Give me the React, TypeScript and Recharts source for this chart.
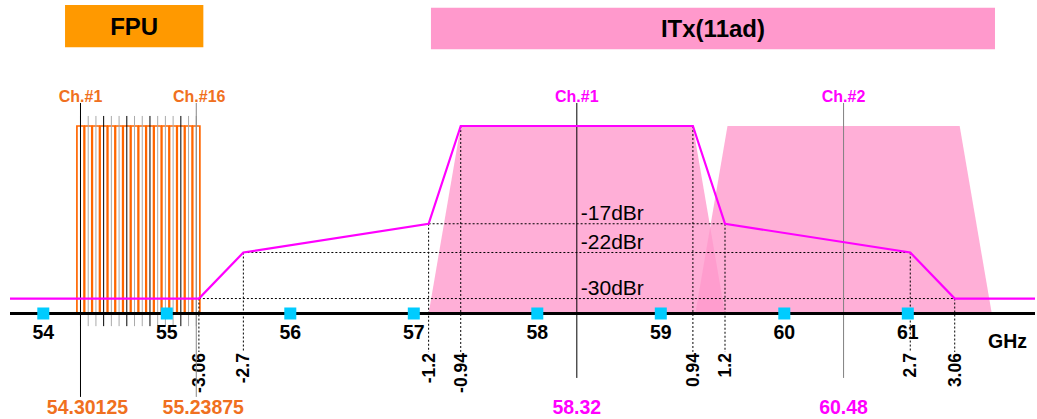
import React from 'react';
import {
  ComposedChart,
  XAxis,
  YAxis,
  Area,
  Line,
  ReferenceArea,
  ReferenceLine,
  ReferenceDot,
} from 'recharts';

// ---------- data ----------
const X_DOMAIN = [53.7304, 62.03];
const Y_DOMAIN = [-32.6, 21.9];
const FLOOR = -32.6; // level of the frequency axis line

const TICKS = [54, 55, 56, 57, 58, 59, 60, 61];

const FPU_CENTERS = [
  54.30125, 54.36375, 54.42625, 54.48875, 54.55125, 54.61375, 54.67625, 54.73875,
  54.80125, 54.86375, 54.92625, 54.98875, 55.05125, 55.11375, 55.17625, 55.23875,
];
const FPU_DARK_INDEX = [0, 3, 6, 9, 13];
const FPU_HALF_BW = 0.029;
const FPU_NAMED = [
  { f: 54.30125, name: 'Ch.#1' },
  { f: 55.23875, name: 'Ch.#16' },
];

const ITX_CENTERS = [58.32, 60.48];
const ITX_NAMES = ['Ch.#1', 'Ch.#2'];
const SPECTRUM_OFFSETS = [-1.2, -0.94, 0.94, 1.2];
const SPECTRUM_LEVELS = [FLOOR, 0, 0, FLOOR];

const MASK_OFFSETS = [-3.06, -2.7, -1.2, -0.94, 0.94, 1.2, 2.7, 3.06];
const MASK_LEVELS = [-30, -22, -17, 0, 0, -17, -22, -30];
const MASK_FLOOR = -30;

const DBR_LEVELS = [-17, -22, -30];
const DBR_HALF_SPANS = [1.2, 2.7, 3.06];

const HEADERS = [
  { label: 'FPU', x1: 54.176, x2: 55.296, y1: 13.68, y2: 21.03 },
  { label: 'ITx(11ad)', x1: 57.139, x2: 61.706, y1: 13.33, y2: 20.56 },
];

// vertical extents of the guide lines (chart level units)
const LONG_TOP = 4.0;
const FPU_TOP = 1.74;
const FPU_BOTTOM = -34.8;
const GUIDE_BOTTOM = -39.3;
const ITX_LINE_BOTTOM = -43.8;
const FPU_LONG_BOTTOM = -47.1;
const FREQ_LABEL_LEVEL = -50.1;

// ---------- style ----------
const FONT = '"Liberation Sans", Arial, Helvetica, sans-serif';
const ORANGE = '#FF6600';
const ORANGE_TEXT = '#F07020';
const MAGENTA = '#FF00FF';
const PINK = '#FF99CC';

const Tick = (props: any) => {
  const { x, y, payload } = props;
  return (
    <g>
      <rect x={x - 6} y={y - 6} width={12} height={12} fill="#00CCFF" />
      <text x={x} y={y + 25} textAnchor="middle" fontSize={19.5} fontWeight="bold" fontFamily={FONT} fill="#000">
        {payload.value}
      </text>
    </g>
  );
};

const rotatedLabel = (text: string) => (p: any) => {
  const vb = p.viewBox || {};
  const tx = vb.x + 6;
  const ty = vb.y + vb.height + 1;
  return (
    <text
      x={tx}
      y={ty}
      transform={`rotate(-90 ${tx} ${ty})`}
      textAnchor="end"
      fontSize={17.5}
      fontWeight="bold"
      fontFamily={FONT}
      fill="#000"
    >
      {text}
    </text>
  );
};

const topLabel = (text: string, color: string, dx = 0) => (p: any) => {
  const vb = p.viewBox || {};
  return (
    <text x={vb.x + dx} y={vb.y - 1} textAnchor="middle" fontSize={16} fontWeight="bold" fontFamily={FONT} fill={color}>
      {text}
    </text>
  );
};

const pointText = (text: string, color: string, opts: any) => (p: any) => {
  const vb = p.viewBox || {};
  return (
    <text
      x={vb.x + (opts.dx || 0)}
      y={vb.y + (opts.dy || 0)}
      textAnchor={opts.anchor || 'middle'}
      fontSize={opts.size}
      fontWeight={opts.weight || 'bold'}
      fontFamily={FONT}
      fill={color}
    >
      {text}
    </text>
  );
};

const headerLabel = (text: string) => (p: any) => {
  const vb = p.viewBox || {};
  return (
    <text
      x={vb.x + vb.width / 2}
      y={vb.y + vb.height / 2 + 8.5}
      textAnchor="middle"
      fontSize={24}
      fontWeight="bold"
      fontFamily={FONT}
      fill="#000"
    >
      {text}
    </text>
  );
};

export default function App() {
  const c1 = ITX_CENTERS[0];
  const maskData = [
    { f: X_DOMAIN[0], v: MASK_FLOOR },
    ...MASK_OFFSETS.map((o, i) => ({ f: c1 + o, v: MASK_LEVELS[i] })),
    { f: X_DOMAIN[1], v: MASK_FLOOR },
  ];
  const spectra = ITX_CENTERS.map((c) =>
    SPECTRUM_OFFSETS.map((o, i) => ({ f: c + o, v: SPECTRUM_LEVELS[i] }))
  );

  return (
    <div style={{ position: 'absolute', left: 0, top: 0, width: 1037, height: 419, background: '#fff' }}>
      <ComposedChart width={1037} height={419} margin={{ top: 0, right: 2, bottom: 0, left: 10 }}>
        <XAxis
          type="number"
          dataKey="f"
          domain={X_DOMAIN}
          allowDataOverflow
          ticks={TICKS}
          interval={0}
          height={105.5}
          tickSize={0}
          tickMargin={0}
          tickLine={false}
          axisLine={{ stroke: '#000', strokeWidth: 3 }}
          tick={<Tick />}
          label={{
            content: (p: any) => {
              const vb = p.viewBox || {};
              return (
                <text
                  x={vb.x + vb.width - 8}
                  y={vb.y + 34}
                  textAnchor="end"
                  fontSize={19.5}
                  fontWeight="bold"
                  fontFamily={FONT}
                  fill="#000"
                >
                  GHz
                </text>
              );
            },
          }}
        />
        <YAxis type="number" domain={Y_DOMAIN} allowDataOverflow hide width={0} />

        {/* header bands */}
        {HEADERS.map((h, i) => (
          <ReferenceArea
            key={'h' + i}
            x1={h.x1}
            x2={h.x2}
            y1={h.y1}
            y2={h.y2}
            fill={i === 0 ? '#FF9900' : PINK}
            fillOpacity={1}
            stroke="none"
            ifOverflow="visible"
            label={headerLabel(h.label)}
          />
        ))}

        {/* ITx spectra */}
        {spectra.map((d, i) => (
          <Area
            key={'s' + i}
            data={d}
            dataKey="v"
            type="linear"
            baseValue={FLOOR}
            fill={PINK}
            fillOpacity={0.78}
            stroke="none"
            dot={false}
            activeDot={false}
            isAnimationActive={false}
          />
        ))}

        {/* FPU channel blocks */}
        {FPU_CENTERS.map((c, i) => (
          <ReferenceArea
            key={'fr' + i}
            x1={c - FPU_HALF_BW}
            x2={c + FPU_HALF_BW}
            y1={FLOOR}
            y2={0}
            fill="none"
            fillOpacity={0}
            stroke={ORANGE}
            strokeWidth={1.7}
            ifOverflow="visible"
          />
        ))}
        {FPU_CENTERS.map((c, i) => (
          <ReferenceLine
            key={'fl' + i}
            segment={[
              { x: c, y: FPU_TOP },
              { x: c, y: FPU_BOTTOM },
            ]}
            stroke={FPU_DARK_INDEX.includes(i) ? '#000' : '#AAAAAA'}
            strokeWidth={1}
            ifOverflow="visible"
          />
        ))}

        {/* dBr guide lines */}
        {DBR_LEVELS.map((lvl, i) => (
          <ReferenceLine
            key={'dh' + i}
            segment={[
              { x: c1 - DBR_HALF_SPANS[i], y: lvl },
              { x: c1 + DBR_HALF_SPANS[i], y: lvl },
            ]}
            stroke="#000"
            strokeWidth={1}
            strokeDasharray="2 2"
            ifOverflow="visible"
          />
        ))}
        {MASK_OFFSETS.map((o, i) => (
          <ReferenceLine
            key={'dv' + i}
            segment={[
              { x: c1 + o, y: MASK_LEVELS[i] },
              { x: c1 + o, y: GUIDE_BOTTOM },
            ]}
            stroke="#000"
            strokeWidth={1}
            strokeDasharray="2 2"
            ifOverflow="visible"
            label={rotatedLabel(String(o))}
          />
        ))}
        {DBR_LEVELS.map((lvl, i) => (
          <ReferenceDot
            key={'dl' + i}
            x={c1}
            y={lvl}
            r={0}
            fill="none"
            stroke="none"
            ifOverflow="visible"
            label={pointText(`${lvl}dBr`, '#000', { dx: 4, dy: -4, anchor: 'start', size: 21, weight: 'normal' })}
          />
        ))}

        {/* FPU named channels */}
        {FPU_NAMED.map((ch, i) => (
          <ReferenceLine
            key={'fn' + i}
            segment={[
              { x: ch.f, y: LONG_TOP },
              { x: ch.f, y: FPU_LONG_BOTTOM },
            ]}
            stroke={i === 0 ? '#000' : '#888888'}
            strokeWidth={1}
            ifOverflow="visible"
            label={topLabel(ch.name, ORANGE_TEXT, i === 0 ? 0 : 3)}
          />
        ))}
        {FPU_NAMED.map((ch, i) => (
          <ReferenceDot
            key={'ff' + i}
            x={ch.f}
            y={FREQ_LABEL_LEVEL}
            r={0}
            fill="none"
            stroke="none"
            ifOverflow="visible"
            label={pointText(String(ch.f), ORANGE_TEXT, { dx: 7, size: 19.5 })}
          />
        ))}

        {/* ITx channels */}
        {ITX_CENTERS.map((c, i) => (
          <ReferenceLine
            key={'ic' + i}
            segment={[
              { x: c, y: LONG_TOP },
              { x: c, y: ITX_LINE_BOTTOM },
            ]}
            stroke={i === 0 ? '#000' : '#808080'}
            strokeWidth={1}
            ifOverflow="visible"
            label={topLabel(ITX_NAMES[i], MAGENTA)}
          />
        ))}
        {ITX_CENTERS.map((c, i) => (
          <ReferenceDot
            key={'if' + i}
            x={c}
            y={FREQ_LABEL_LEVEL}
            r={0}
            fill="none"
            stroke="none"
            ifOverflow="visible"
            label={pointText(String(c), MAGENTA, { size: 19.5 })}
          />
        ))}

        {/* spectrum mask */}
        <Line
          data={maskData}
          dataKey="v"
          type="linear"
          stroke={MAGENTA}
          strokeWidth={2.2}
          dot={false}
          activeDot={false}
          isAnimationActive={false}
        />
      </ComposedChart>
    </div>
  );
}
